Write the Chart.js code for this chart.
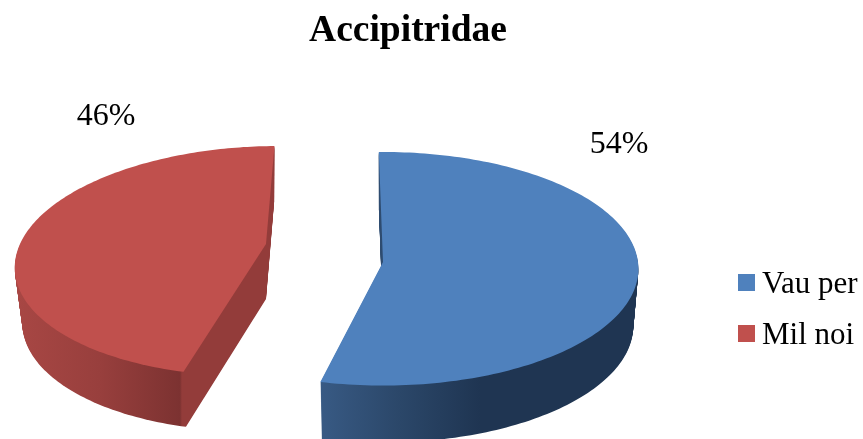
<!DOCTYPE html>
<html>
<head>
<meta charset="utf-8">
<style>html,body{margin:0;padding:0;background:#fff}canvas{display:block}</style>
<script src="https://cdn.jsdelivr.net/npm/chart.js@4"></script>
</head>
<body>
<canvas id="c" width="863" height="439"></canvas>
<script>
const titleText = 'Accipitridae';
const categories = ['Vau per', 'Mil noi'];
const shares = [54, 46];
const topColors = ['#4F81BD', '#C0504D'];

// Perspective camera and wall shading for each exploded slice
const views = [
  {ax: 383, ay: 262, rx: 255, ry: 116.4, shear: 0, k: 0.058, depth: 57, taper: 0.02,
   stops: [[320, '#385A84'], [400, '#2B4769'], [480, '#1F3552'], [640, '#1F3552']]},
  {ax: 266, ay: 244, rx: 246, ry: 112.5, shear: -14, k: 0.148, depth: 55, taper: 0.03,
   stops: [[15, '#A84744'], [100, '#983F3D'], [180, '#7C3231'], [182, '#933C3A'], [275, '#933C3A']]}
];
const labelSpots = [{x: 619, y: 153}, {x: 106, y: 125}];
const legendSpot = {boxX: 738, textX: 762, boxTop: 274, rowStep: 51, box: 17, baseGap: 19};
const serif = '"Liberation Serif", "Times New Roman", serif';

function project(v, angle, d) {
  const x = Math.cos(angle), y = Math.sin(angle);
  const w = 1 - v.k * y, f = 1 - v.taper * d / v.depth;
  return [v.ax + f * (v.rx * x + v.shear * y) / w, v.ay + v.ry * y / w + d];
}
function tracePie(ctx, arc, v, d) {
  ctx.beginPath();
  ctx.moveTo(v.ax, v.ay + d);
  const n = 160;
  for (let i = 0; i <= n; i++) {
    const p = project(v, arc.startAngle + (arc.endAngle - arc.startAngle) * i / n, d);
    ctx.lineTo(p[0], p[1]);
  }
  ctx.closePath();
}
const pie3d = {
  id: 'pie3d',
  afterLayout(chart) {
    chart.titleBlock.left -= 23.5;
    chart.titleBlock.right -= 23.5;
  },
  beforeDatasetDraw(chart, args) {
    const ctx = chart.ctx;
    const arcs = args.meta.data;
    for (let i = arcs.length - 1; i >= 0; i--) {
      const v = views[i], arc = arcs[i];
      const xs = v.stops.map(s => s[0]);
      const x0 = Math.min(...xs), x1 = Math.max(...xs);
      const g = ctx.createLinearGradient(x0, 0, x1, 0);
      v.stops.forEach(s => g.addColorStop((s[0] - x0) / (x1 - x0), s[1]));
      ctx.save();
      ctx.fillStyle = g;
      for (let d = v.depth; d > 0; d--) { tracePie(ctx, arc, v, d); ctx.fill(); }
      ctx.fillStyle = topColors[i];
      tracePie(ctx, arc, v, 0);
      ctx.fill();
      ctx.restore();
    }
    return false;
  },
  afterDraw(chart) {
    const ctx = chart.ctx;
    const total = shares.reduce((a, b) => a + b, 0);
    ctx.save();
    ctx.fillStyle = '#000';
    ctx.textBaseline = 'alphabetic';
    ctx.font = '32px ' + serif;
    ctx.textAlign = 'center';
    shares.forEach((s, i) => ctx.fillText(Math.round(s / total * 100) + '%', labelSpots[i].x, labelSpots[i].y));
    ctx.textAlign = 'left';
    ctx.font = '31px ' + serif;
    categories.forEach((c, i) => {
      const top = legendSpot.boxTop + i * legendSpot.rowStep;
      ctx.fillStyle = topColors[i];
      ctx.fillRect(legendSpot.boxX, top, legendSpot.box, legendSpot.box);
      ctx.fillStyle = '#000';
      ctx.fillText(c, legendSpot.textX, top + legendSpot.baseGap);
    });
    ctx.restore();
  }
};
new Chart(document.getElementById('c'), {
  type: 'pie',
  data: {labels: categories, datasets: [{data: shares, backgroundColor: topColors, borderWidth: 0}]},
  options: {
    responsive: false,
    animation: false,
    rotation: -1,
    plugins: {
      legend: {display: false},
      tooltip: {enabled: false},
      title: {display: true, text: titleText, color: '#000', padding: {top: 9, bottom: 10},
        font: {family: serif, size: 37.5, weight: 'bold'}}
    }
  },
  plugins: [pie3d]
});
</script>
</body>
</html>
